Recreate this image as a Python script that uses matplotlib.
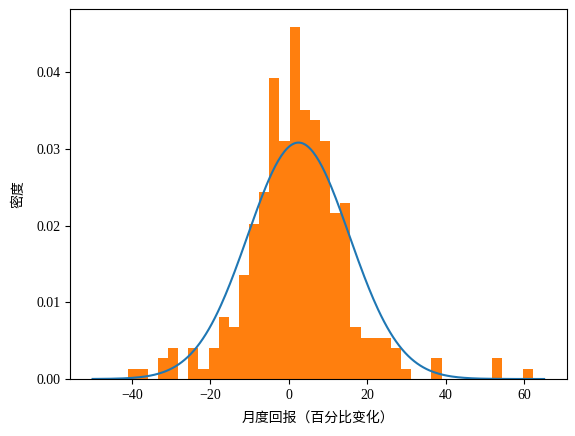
import numpy as np
import matplotlib
matplotlib.use("Agg")
import matplotlib.pyplot as plt

plt.rcParams['font.family'] = ['Liberation Serif', 'Noto Sans CJK SC', 'DejaVu Sans']
plt.rcParams['axes.unicode_minus'] = True

# Histogram data (monthly returns, %), 40 equal bins
bin_start = -41.1
bin_end = 62.1
n_bins = 40
counts = [1, 1, 0, 2, 3, 0, 3, 1, 3, 6,
          5, 10, 15, 18, 29, 23, 34, 26, 25, 23,
          16, 17, 5, 4, 4, 4, 3, 1, 0, 0,
          2, 0, 0, 0, 0, 0, 2, 0, 0, 1]

# Fitted normal distribution
mu = 2.45
sigma = 12.95
curve_start = -50
curve_end = 65

x_label = "月度回报（百分比变化）"
y_label = "密度"

W, H = 575, 436
fig = plt.figure(figsize=(W / 100, H / 100), dpi=100)
ax = fig.add_axes([70 / W, (H - 379) / H, (566.7 - 70) / W, (379 - 9) / H])

edges = np.linspace(bin_start, bin_end, n_bins + 1)
centers = (edges[:-1] + edges[1:]) / 2
ax.hist(centers, bins=edges, weights=counts, density=True, color='#ff7f0e')

xs = np.linspace(curve_start, curve_end, 300)
pdf = np.exp(-0.5 * ((xs - mu) / sigma) ** 2) / (sigma * np.sqrt(2 * np.pi))
ax.plot(xs, pdf, color='#1f77b4', linewidth=1.5)

ax.set_xlabel(x_label, fontsize=10, labelpad=6.5)
ax.set_ylabel(y_label, fontsize=10, labelpad=7.5)
ax.tick_params(labelsize=10)

fig.savefig("out.png", dpi=100)
